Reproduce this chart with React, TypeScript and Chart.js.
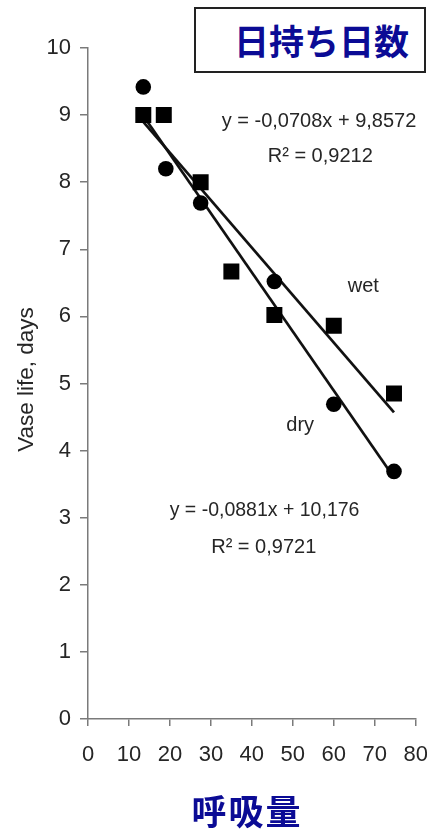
import React, { useEffect, useRef } from 'react';
import { Chart, registerables } from 'chart.js';

Chart.register(...registerables);

// ---- data ----
const chartTitle = '日持ち日数';
const xTitle = '呼吸量';
const yTitle = 'Vase life, days';

const wetX = [13.5, 18.5, 27.5, 35, 45.5, 60, 74.7];
const wetY = [9.0, 9.0, 8.0, 6.67, 6.02, 5.86, 4.85];
const dryX = [13.5, 19, 27.5, 45.5, 60, 74.7];
const dryY = [9.42, 8.2, 7.69, 6.52, 4.69, 3.69];

const wetFitX = [13.5, 74.7];
const wetFitY = [8.9, 4.57];
const dryFitX = [13.5, 74.7];
const dryFitY = [8.99, 3.6];

const wetEq = 'y = -0,0708x + 9,8572';
const wetR2 = 'R² = 0,9212';
const dryEq = 'y = -0,0881x + 10,176';
const dryR2 = 'R² = 0,9721';
const wetLabel = 'wet';
const dryLabel = 'dry';

const xMin = 0;
const xMax = 80;
const xStep = 10;
const yMin = 0;
const yMax = 10;
const yStep = 1;

// ---- styles ----
const textColor = '#262626';
const axisColor = '#7a7a7a';
const navy = '#0b0b95';
const sans = '"Liberation Sans", Arial, sans-serif';

const notes = [
  { text: wetEq, x: 56.4, y: 8.9, size: 20 },
  { text: wetR2, x: 56.7, y: 8.38, size: 20 },
  { text: wetLabel, x: 67.2, y: 6.44, size: 20 },
  { text: dryLabel, x: 51.8, y: 4.38, size: 20 },
  { text: dryEq, x: 43.1, y: 3.11, size: 19.5 },
  { text: dryR2, x: 42.9, y: 2.56, size: 20 },
];

const toPts = (xs: number[], ys: number[]) => xs.map((x, i) => ({ x, y: ys[i] }));

export default function App() {
  const ref = useRef<HTMLCanvasElement>(null);

  useEffect(() => {
    document.body.style.margin = '0';
    const canvas = ref.current!;

    const annot = {
      id: 'annot',
      afterDatasetsDraw(chart: any) {
        const { ctx, scales } = chart;
        const xs = scales.x;
        const ys = scales.y;
        ctx.save();
        ctx.fillStyle = textColor;
        ctx.textAlign = 'center';
        ctx.textBaseline = 'middle';
        for (const n of notes) {
          ctx.font = `${n.size}px ${sans}`;
          ctx.fillText(n.text, xs.getPixelForValue(n.x), ys.getPixelForValue(n.y));
        }
        // y axis title
        const ca = chart.chartArea;
        ctx.translate(ca.left - 55, (ca.top + ca.bottom) / 2 - 4);
        ctx.rotate(-Math.PI / 2);
        ctx.textBaseline = 'alphabetic';
        ctx.font = `22.5px ${sans}`;
        ctx.fillText(yTitle, 0, 0);
        ctx.restore();
      },
    };

    const chart = new Chart(canvas, {
      type: 'scatter',
      data: {
        datasets: [
          {
            label: 'wet',
            data: toPts(wetX, wetY),
            pointStyle: 'rect',
            pointRadius: 11.3,
            pointHoverRadius: 11.3,
            backgroundColor: '#000',
            borderColor: '#000',
            borderWidth: 0,
            order: 0,
          },
          {
            label: 'dry',
            data: toPts(dryX, dryY),
            pointStyle: 'circle',
            pointRadius: 7.8,
            pointHoverRadius: 7.8,
            backgroundColor: '#000',
            borderColor: '#000',
            borderWidth: 0,
            order: 0,
          },
          {
            label: 'wet fit',
            data: toPts(wetFitX, wetFitY),
            showLine: true,
            pointRadius: 0,
            borderColor: '#111',
            borderWidth: 2.7,
            order: 1,
          },
          {
            label: 'dry fit',
            data: toPts(dryFitX, dryFitY),
            showLine: true,
            pointRadius: 0,
            borderColor: '#111',
            borderWidth: 2.7,
            order: 1,
          },
        ],
      },
      options: {
        responsive: false,
        animation: false,
        events: [],
        layout: { padding: { left: 0, right: 9, top: 48, bottom: 0 } },
        plugins: {
          legend: { display: false },
          tooltip: { enabled: false },
          title: { display: false },
        },
        scales: {
          x: {
            type: 'linear',
            min: xMin,
            max: xMax,
            ticks: {
              stepSize: xStep,
              color: textColor,
              padding: 16,
              font: { family: sans, size: 22 },
            },
            grid: { drawOnChartArea: false, drawTicks: true, tickLength: 7, color: axisColor, lineWidth: 1.5 },
            border: { color: axisColor, width: 1.5 },
            afterFit: (s: any) => {
              s.height = 111;
              s.paddingLeft = 0;
              s.paddingRight = 0;
            },
          },
          y: {
            type: 'linear',
            min: yMin,
            max: yMax,
            ticks: {
              stepSize: yStep,
              color: textColor,
              padding: 9,
              font: { family: sans, size: 22 },
            },
            grid: { drawOnChartArea: false, drawTicks: true, tickLength: 8, color: axisColor, lineWidth: 1.5 },
            border: { color: axisColor, width: 1.5 },
            afterFit: (s: any) => {
              s.width = 88;
              s.paddingTop = 0;
              s.paddingBottom = 0;
            },
          },
        },
      },
      plugins: [annot],
    });

    return () => chart.destroy();
  }, []);

  return (
    <div style={{ position: 'relative', width: 427, height: 830, overflow: 'hidden', background: '#fff' }}>
      <canvas ref={ref} width={427} height={830} style={{ position: 'absolute', left: 0, top: 0 }} />
      <div
        style={{
          position: 'absolute',
          left: 194,
          top: 7,
          width: 232,
          height: 66,
          boxSizing: 'border-box',
          border: '2px solid #222',
          background: '#fff',
          color: navy,
          fontFamily: '"Noto Sans CJK JP", sans-serif',
          fontWeight: 700,
          fontSize: 35,
          lineHeight: '62px',
          paddingLeft: 38,
          whiteSpace: 'nowrap',
        }}
      >
        {chartTitle}
      </div>
      <div
        style={{
          position: 'absolute',
          left: 247,
          top: 792,
          transform: 'translateX(-50%)',
          color: navy,
          fontFamily: '"Noto Sans CJK JP", sans-serif',
          fontWeight: 700,
          fontSize: 35,
          lineHeight: '36px',
          letterSpacing: 2,
          whiteSpace: 'nowrap',
        }}
      >
        {xTitle}
      </div>
    </div>
  );
}
